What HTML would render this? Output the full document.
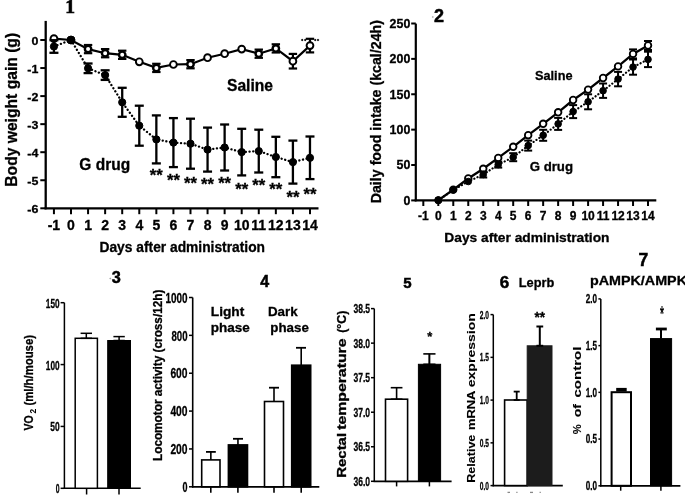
<!DOCTYPE html>
<html><head><meta charset="utf-8"><style>
html,body{margin:0;padding:0;background:#fff;}
svg{display:block;will-change:transform;}
</style></head><body>
<svg width="685" height="496" viewBox="0 0 685 496">
<rect width="685" height="496" fill="#fff"/>
<line x1="45.70" y1="20.90" x2="45.70" y2="209.30" stroke="#000" stroke-width="2.3"/>
<line x1="44.60" y1="208.30" x2="318.50" y2="208.30" stroke="#000" stroke-width="2.3"/>
<line x1="40.30" y1="40.00" x2="45.70" y2="40.00" stroke="#000" stroke-width="2"/>
<text transform="translate(38.40,44.60) scale(1.1,1)" font-family='"Liberation Sans", sans-serif' font-size="11.3" font-weight="bold" text-anchor="end" fill="#000" stroke="#000" stroke-width="0.3">0</text>
<line x1="40.30" y1="68.05" x2="45.70" y2="68.05" stroke="#000" stroke-width="2"/>
<text transform="translate(38.40,72.65) scale(1.1,1)" font-family='"Liberation Sans", sans-serif' font-size="11.3" font-weight="bold" text-anchor="end" fill="#000" stroke="#000" stroke-width="0.3">-1</text>
<line x1="40.30" y1="96.10" x2="45.70" y2="96.10" stroke="#000" stroke-width="2"/>
<text transform="translate(38.40,100.70) scale(1.1,1)" font-family='"Liberation Sans", sans-serif' font-size="11.3" font-weight="bold" text-anchor="end" fill="#000" stroke="#000" stroke-width="0.3">-2</text>
<line x1="40.30" y1="124.15" x2="45.70" y2="124.15" stroke="#000" stroke-width="2"/>
<text transform="translate(38.40,128.75) scale(1.1,1)" font-family='"Liberation Sans", sans-serif' font-size="11.3" font-weight="bold" text-anchor="end" fill="#000" stroke="#000" stroke-width="0.3">-3</text>
<line x1="40.30" y1="152.20" x2="45.70" y2="152.20" stroke="#000" stroke-width="2"/>
<text transform="translate(38.40,156.80) scale(1.1,1)" font-family='"Liberation Sans", sans-serif' font-size="11.3" font-weight="bold" text-anchor="end" fill="#000" stroke="#000" stroke-width="0.3">-4</text>
<line x1="40.30" y1="180.25" x2="45.70" y2="180.25" stroke="#000" stroke-width="2"/>
<text transform="translate(38.40,184.85) scale(1.1,1)" font-family='"Liberation Sans", sans-serif' font-size="11.3" font-weight="bold" text-anchor="end" fill="#000" stroke="#000" stroke-width="0.3">-5</text>
<line x1="40.30" y1="208.30" x2="45.70" y2="208.30" stroke="#000" stroke-width="2"/>
<text transform="translate(38.40,212.90) scale(1.1,1)" font-family='"Liberation Sans", sans-serif' font-size="11.3" font-weight="bold" text-anchor="end" fill="#000" stroke="#000" stroke-width="0.3">-6</text>
<line x1="53.93" y1="208.30" x2="53.93" y2="214.20" stroke="#000" stroke-width="2"/>
<text x="53.93" y="229.60" font-family='"Liberation Sans", sans-serif' font-size="14" font-weight="bold" text-anchor="middle" fill="#000" stroke="#000" stroke-width="0.3">-1</text>
<line x1="71.00" y1="208.30" x2="71.00" y2="214.20" stroke="#000" stroke-width="2"/>
<text x="71.00" y="229.60" font-family='"Liberation Sans", sans-serif' font-size="14" font-weight="bold" text-anchor="middle" fill="#000" stroke="#000" stroke-width="0.3">0</text>
<line x1="88.07" y1="208.30" x2="88.07" y2="214.20" stroke="#000" stroke-width="2"/>
<text x="88.07" y="229.60" font-family='"Liberation Sans", sans-serif' font-size="14" font-weight="bold" text-anchor="middle" fill="#000" stroke="#000" stroke-width="0.3">1</text>
<line x1="105.14" y1="208.30" x2="105.14" y2="214.20" stroke="#000" stroke-width="2"/>
<text x="105.14" y="229.60" font-family='"Liberation Sans", sans-serif' font-size="14" font-weight="bold" text-anchor="middle" fill="#000" stroke="#000" stroke-width="0.3">2</text>
<line x1="122.21" y1="208.30" x2="122.21" y2="214.20" stroke="#000" stroke-width="2"/>
<text x="122.21" y="229.60" font-family='"Liberation Sans", sans-serif' font-size="14" font-weight="bold" text-anchor="middle" fill="#000" stroke="#000" stroke-width="0.3">3</text>
<line x1="139.28" y1="208.30" x2="139.28" y2="214.20" stroke="#000" stroke-width="2"/>
<text x="139.28" y="229.60" font-family='"Liberation Sans", sans-serif' font-size="14" font-weight="bold" text-anchor="middle" fill="#000" stroke="#000" stroke-width="0.3">4</text>
<line x1="156.35" y1="208.30" x2="156.35" y2="214.20" stroke="#000" stroke-width="2"/>
<text x="156.35" y="229.60" font-family='"Liberation Sans", sans-serif' font-size="14" font-weight="bold" text-anchor="middle" fill="#000" stroke="#000" stroke-width="0.3">5</text>
<line x1="173.42" y1="208.30" x2="173.42" y2="214.20" stroke="#000" stroke-width="2"/>
<text x="173.42" y="229.60" font-family='"Liberation Sans", sans-serif' font-size="14" font-weight="bold" text-anchor="middle" fill="#000" stroke="#000" stroke-width="0.3">6</text>
<line x1="190.49" y1="208.30" x2="190.49" y2="214.20" stroke="#000" stroke-width="2"/>
<text x="190.49" y="229.60" font-family='"Liberation Sans", sans-serif' font-size="14" font-weight="bold" text-anchor="middle" fill="#000" stroke="#000" stroke-width="0.3">7</text>
<line x1="207.56" y1="208.30" x2="207.56" y2="214.20" stroke="#000" stroke-width="2"/>
<text x="207.56" y="229.60" font-family='"Liberation Sans", sans-serif' font-size="14" font-weight="bold" text-anchor="middle" fill="#000" stroke="#000" stroke-width="0.3">8</text>
<line x1="224.63" y1="208.30" x2="224.63" y2="214.20" stroke="#000" stroke-width="2"/>
<text x="224.63" y="229.60" font-family='"Liberation Sans", sans-serif' font-size="14" font-weight="bold" text-anchor="middle" fill="#000" stroke="#000" stroke-width="0.3">9</text>
<line x1="241.70" y1="208.30" x2="241.70" y2="214.20" stroke="#000" stroke-width="2"/>
<text x="241.70" y="229.60" font-family='"Liberation Sans", sans-serif' font-size="14" font-weight="bold" text-anchor="middle" fill="#000" stroke="#000" stroke-width="0.3">10</text>
<line x1="258.77" y1="208.30" x2="258.77" y2="214.20" stroke="#000" stroke-width="2"/>
<text x="258.77" y="229.60" font-family='"Liberation Sans", sans-serif' font-size="14" font-weight="bold" text-anchor="middle" fill="#000" stroke="#000" stroke-width="0.3">11</text>
<line x1="275.84" y1="208.30" x2="275.84" y2="214.20" stroke="#000" stroke-width="2"/>
<text x="275.84" y="229.60" font-family='"Liberation Sans", sans-serif' font-size="14" font-weight="bold" text-anchor="middle" fill="#000" stroke="#000" stroke-width="0.3">12</text>
<line x1="292.91" y1="208.30" x2="292.91" y2="214.20" stroke="#000" stroke-width="2"/>
<text x="292.91" y="229.60" font-family='"Liberation Sans", sans-serif' font-size="14" font-weight="bold" text-anchor="middle" fill="#000" stroke="#000" stroke-width="0.3">13</text>
<line x1="309.98" y1="208.30" x2="309.98" y2="214.20" stroke="#000" stroke-width="2"/>
<text x="309.98" y="229.60" font-family='"Liberation Sans", sans-serif' font-size="14" font-weight="bold" text-anchor="middle" fill="#000" stroke="#000" stroke-width="0.3">14</text>
<text x="99.50" y="252.30" font-family='"Liberation Sans", sans-serif' font-size="14" font-weight="bold" text-anchor="start" fill="#000" textLength="165.5" lengthAdjust="spacingAndGlyphs" stroke="#000" stroke-width="0.3">Days after administration</text>
<text transform="translate(16.50,186.70) rotate(-90)" font-family='"Liberation Sans", sans-serif' font-size="15.6" font-weight="bold" textLength="153.80" lengthAdjust="spacingAndGlyphs" stroke="#000" stroke-width="0.3">Body weight gain (g)</text>
<text x="70.00" y="12.60" font-family='"Liberation Serif", serif' font-size="19.5" font-weight="bold" text-anchor="middle" fill="#000" stroke="#000" stroke-width="0.7">1</text>
<line x1="88.07" y1="45.00" x2="88.07" y2="53.20" stroke="#000" stroke-width="2.2"/>
<line x1="83.87" y1="45.00" x2="92.27" y2="45.00" stroke="#000" stroke-width="2.2"/>
<line x1="83.87" y1="53.20" x2="92.27" y2="53.20" stroke="#000" stroke-width="2.2"/>
<line x1="105.14" y1="49.10" x2="105.14" y2="57.30" stroke="#000" stroke-width="2.2"/>
<line x1="100.94" y1="49.10" x2="109.34" y2="49.10" stroke="#000" stroke-width="2.2"/>
<line x1="100.94" y1="57.30" x2="109.34" y2="57.30" stroke="#000" stroke-width="2.2"/>
<line x1="122.21" y1="50.70" x2="122.21" y2="58.90" stroke="#000" stroke-width="2.2"/>
<line x1="118.01" y1="50.70" x2="126.41" y2="50.70" stroke="#000" stroke-width="2.2"/>
<line x1="118.01" y1="58.90" x2="126.41" y2="58.90" stroke="#000" stroke-width="2.2"/>
<line x1="156.35" y1="63.80" x2="156.35" y2="72.00" stroke="#000" stroke-width="2.2"/>
<line x1="152.15" y1="63.80" x2="160.55" y2="63.80" stroke="#000" stroke-width="2.2"/>
<line x1="152.15" y1="72.00" x2="160.55" y2="72.00" stroke="#000" stroke-width="2.2"/>
<line x1="190.49" y1="60.10" x2="190.49" y2="68.30" stroke="#000" stroke-width="2.2"/>
<line x1="186.29" y1="60.10" x2="194.69" y2="60.10" stroke="#000" stroke-width="2.2"/>
<line x1="186.29" y1="68.30" x2="194.69" y2="68.30" stroke="#000" stroke-width="2.2"/>
<line x1="258.77" y1="49.60" x2="258.77" y2="57.80" stroke="#000" stroke-width="2.2"/>
<line x1="254.57" y1="49.60" x2="262.97" y2="49.60" stroke="#000" stroke-width="2.2"/>
<line x1="254.57" y1="57.80" x2="262.97" y2="57.80" stroke="#000" stroke-width="2.2"/>
<line x1="275.84" y1="44.30" x2="275.84" y2="52.50" stroke="#000" stroke-width="2.2"/>
<line x1="271.64" y1="44.30" x2="280.04" y2="44.30" stroke="#000" stroke-width="2.2"/>
<line x1="271.64" y1="52.50" x2="280.04" y2="52.50" stroke="#000" stroke-width="2.2"/>
<line x1="292.91" y1="53.90" x2="292.91" y2="68.50" stroke="#000" stroke-width="2.2"/>
<line x1="288.71" y1="53.90" x2="297.11" y2="53.90" stroke="#000" stroke-width="2.2"/>
<line x1="288.71" y1="68.50" x2="297.11" y2="68.50" stroke="#000" stroke-width="2.2"/>
<line x1="309.98" y1="38.80" x2="309.98" y2="52.40" stroke="#000" stroke-width="2.2"/>
<line x1="305.78" y1="38.80" x2="314.18" y2="38.80" stroke="#000" stroke-width="2.2"/>
<line x1="305.78" y1="52.40" x2="314.18" y2="52.40" stroke="#000" stroke-width="2.2"/>
<polyline points="53.93,38.60 71.00,40.00 88.07,49.10 105.14,53.20 122.21,54.80 139.28,61.80 156.35,67.90 173.42,64.50 190.49,64.20 207.56,57.70 224.63,53.70 241.70,49.10 258.77,53.70 275.84,48.40 292.91,61.20 309.98,45.60" fill="none" stroke="#000" stroke-width="2.2"/>
<circle cx="53.93" cy="38.60" r="3.40" fill="#fff" stroke="#000" stroke-width="1.9"/>
<circle cx="88.07" cy="49.10" r="3.20" fill="#fff" stroke="#000" stroke-width="2.4"/>
<circle cx="105.14" cy="53.20" r="3.20" fill="#fff" stroke="#000" stroke-width="2.4"/>
<circle cx="122.21" cy="54.80" r="3.20" fill="#fff" stroke="#000" stroke-width="2.4"/>
<circle cx="139.28" cy="61.80" r="3.40" fill="#fff" stroke="#000" stroke-width="1.9"/>
<circle cx="156.35" cy="67.90" r="3.20" fill="#fff" stroke="#000" stroke-width="2.4"/>
<circle cx="173.42" cy="64.50" r="3.40" fill="#fff" stroke="#000" stroke-width="1.9"/>
<circle cx="190.49" cy="64.20" r="3.20" fill="#fff" stroke="#000" stroke-width="2.4"/>
<circle cx="207.56" cy="57.70" r="3.40" fill="#fff" stroke="#000" stroke-width="1.9"/>
<circle cx="224.63" cy="53.70" r="3.40" fill="#fff" stroke="#000" stroke-width="1.9"/>
<circle cx="241.70" cy="49.10" r="3.40" fill="#fff" stroke="#000" stroke-width="1.9"/>
<circle cx="258.77" cy="53.70" r="3.20" fill="#fff" stroke="#000" stroke-width="2.4"/>
<circle cx="275.84" cy="48.40" r="3.20" fill="#fff" stroke="#000" stroke-width="2.4"/>
<circle cx="292.91" cy="61.20" r="3.40" fill="#fff" stroke="#000" stroke-width="1.9"/>
<circle cx="309.98" cy="45.60" r="3.40" fill="#fff" stroke="#000" stroke-width="1.9"/>
<circle cx="71.00" cy="40.00" r="4.00" fill="#000" stroke="#000" stroke-width="1"/>
<polyline points="53.93,46.50 71.00,40.00 88.07,68.30 105.14,75.10 122.21,102.30 139.28,125.70 156.35,139.40 173.42,142.60 190.49,143.70 207.56,149.60 224.63,147.50 241.70,152.10 258.77,151.10 275.84,157.00 292.91,162.10 309.98,157.80" fill="none" stroke="#000" stroke-width="2.3" stroke-dasharray="0.1 3.6" stroke-linecap="round"/>
<line x1="53.93" y1="40.20" x2="53.93" y2="52.80" stroke="#000" stroke-width="2.3"/>
<line x1="49.43" y1="40.20" x2="58.43" y2="40.20" stroke="#000" stroke-width="2.3"/>
<line x1="49.43" y1="52.80" x2="58.43" y2="52.80" stroke="#000" stroke-width="2.3"/>
<line x1="88.07" y1="63.50" x2="88.07" y2="73.10" stroke="#000" stroke-width="2.3"/>
<line x1="83.57" y1="63.50" x2="92.57" y2="63.50" stroke="#000" stroke-width="2.3"/>
<line x1="83.57" y1="73.10" x2="92.57" y2="73.10" stroke="#000" stroke-width="2.3"/>
<line x1="105.14" y1="70.30" x2="105.14" y2="79.90" stroke="#000" stroke-width="2.3"/>
<line x1="100.64" y1="70.30" x2="109.64" y2="70.30" stroke="#000" stroke-width="2.3"/>
<line x1="100.64" y1="79.90" x2="109.64" y2="79.90" stroke="#000" stroke-width="2.3"/>
<line x1="122.21" y1="87.80" x2="122.21" y2="116.80" stroke="#000" stroke-width="2.3"/>
<line x1="117.71" y1="87.80" x2="126.71" y2="87.80" stroke="#000" stroke-width="2.3"/>
<line x1="117.71" y1="116.80" x2="126.71" y2="116.80" stroke="#000" stroke-width="2.3"/>
<line x1="139.28" y1="105.70" x2="139.28" y2="145.70" stroke="#000" stroke-width="2.3"/>
<line x1="134.78" y1="105.70" x2="143.78" y2="105.70" stroke="#000" stroke-width="2.3"/>
<line x1="134.78" y1="145.70" x2="143.78" y2="145.70" stroke="#000" stroke-width="2.3"/>
<line x1="156.35" y1="115.40" x2="156.35" y2="163.40" stroke="#000" stroke-width="2.3"/>
<line x1="151.85" y1="115.40" x2="160.85" y2="115.40" stroke="#000" stroke-width="2.3"/>
<line x1="151.85" y1="163.40" x2="160.85" y2="163.40" stroke="#000" stroke-width="2.3"/>
<line x1="173.42" y1="118.10" x2="173.42" y2="167.10" stroke="#000" stroke-width="2.3"/>
<line x1="168.92" y1="118.10" x2="177.92" y2="118.10" stroke="#000" stroke-width="2.3"/>
<line x1="168.92" y1="167.10" x2="177.92" y2="167.10" stroke="#000" stroke-width="2.3"/>
<line x1="190.49" y1="118.70" x2="190.49" y2="168.70" stroke="#000" stroke-width="2.3"/>
<line x1="185.99" y1="118.70" x2="194.99" y2="118.70" stroke="#000" stroke-width="2.3"/>
<line x1="185.99" y1="168.70" x2="194.99" y2="168.70" stroke="#000" stroke-width="2.3"/>
<line x1="207.56" y1="127.60" x2="207.56" y2="171.60" stroke="#000" stroke-width="2.3"/>
<line x1="203.06" y1="127.60" x2="212.06" y2="127.60" stroke="#000" stroke-width="2.3"/>
<line x1="203.06" y1="171.60" x2="212.06" y2="171.60" stroke="#000" stroke-width="2.3"/>
<line x1="224.63" y1="124.50" x2="224.63" y2="170.50" stroke="#000" stroke-width="2.3"/>
<line x1="220.13" y1="124.50" x2="229.13" y2="124.50" stroke="#000" stroke-width="2.3"/>
<line x1="220.13" y1="170.50" x2="229.13" y2="170.50" stroke="#000" stroke-width="2.3"/>
<line x1="241.70" y1="128.80" x2="241.70" y2="175.40" stroke="#000" stroke-width="2.3"/>
<line x1="237.20" y1="128.80" x2="246.20" y2="128.80" stroke="#000" stroke-width="2.3"/>
<line x1="237.20" y1="175.40" x2="246.20" y2="175.40" stroke="#000" stroke-width="2.3"/>
<line x1="258.77" y1="129.70" x2="258.77" y2="172.50" stroke="#000" stroke-width="2.3"/>
<line x1="254.27" y1="129.70" x2="263.27" y2="129.70" stroke="#000" stroke-width="2.3"/>
<line x1="254.27" y1="172.50" x2="263.27" y2="172.50" stroke="#000" stroke-width="2.3"/>
<line x1="275.84" y1="136.80" x2="275.84" y2="177.20" stroke="#000" stroke-width="2.3"/>
<line x1="271.34" y1="136.80" x2="280.34" y2="136.80" stroke="#000" stroke-width="2.3"/>
<line x1="271.34" y1="177.20" x2="280.34" y2="177.20" stroke="#000" stroke-width="2.3"/>
<line x1="292.91" y1="140.60" x2="292.91" y2="183.60" stroke="#000" stroke-width="2.3"/>
<line x1="288.41" y1="140.60" x2="297.41" y2="140.60" stroke="#000" stroke-width="2.3"/>
<line x1="288.41" y1="183.60" x2="297.41" y2="183.60" stroke="#000" stroke-width="2.3"/>
<line x1="309.98" y1="136.50" x2="309.98" y2="179.10" stroke="#000" stroke-width="2.3"/>
<line x1="305.48" y1="136.50" x2="314.48" y2="136.50" stroke="#000" stroke-width="2.3"/>
<line x1="305.48" y1="179.10" x2="314.48" y2="179.10" stroke="#000" stroke-width="2.3"/>
<circle cx="53.93" cy="46.50" r="3.60" fill="#000" stroke="#000" stroke-width="1"/>
<circle cx="71.00" cy="40.00" r="3.60" fill="#000" stroke="#000" stroke-width="1"/>
<circle cx="88.07" cy="68.30" r="3.60" fill="#000" stroke="#000" stroke-width="1"/>
<circle cx="105.14" cy="75.10" r="3.60" fill="#000" stroke="#000" stroke-width="1"/>
<circle cx="122.21" cy="102.30" r="3.60" fill="#000" stroke="#000" stroke-width="1"/>
<circle cx="139.28" cy="125.70" r="3.60" fill="#000" stroke="#000" stroke-width="1"/>
<circle cx="156.35" cy="139.40" r="3.60" fill="#000" stroke="#000" stroke-width="1"/>
<circle cx="173.42" cy="142.60" r="3.60" fill="#000" stroke="#000" stroke-width="1"/>
<circle cx="190.49" cy="143.70" r="3.60" fill="#000" stroke="#000" stroke-width="1"/>
<circle cx="207.56" cy="149.60" r="3.60" fill="#000" stroke="#000" stroke-width="1"/>
<circle cx="224.63" cy="147.50" r="3.60" fill="#000" stroke="#000" stroke-width="1"/>
<circle cx="241.70" cy="152.10" r="3.60" fill="#000" stroke="#000" stroke-width="1"/>
<circle cx="258.77" cy="151.10" r="3.60" fill="#000" stroke="#000" stroke-width="1"/>
<circle cx="275.84" cy="157.00" r="3.60" fill="#000" stroke="#000" stroke-width="1"/>
<circle cx="292.91" cy="162.10" r="3.60" fill="#000" stroke="#000" stroke-width="1"/>
<circle cx="309.98" cy="157.80" r="3.60" fill="#000" stroke="#000" stroke-width="1"/>
<circle cx="302.20" cy="40.00" r="0.90" fill="#000" stroke="#000" stroke-width="0.3"/>
<circle cx="305.20" cy="40.00" r="0.90" fill="#000" stroke="#000" stroke-width="0.3"/>
<circle cx="315.20" cy="40.00" r="0.90" fill="#000" stroke="#000" stroke-width="0.3"/>
<circle cx="318.00" cy="40.00" r="0.90" fill="#000" stroke="#000" stroke-width="0.3"/>
<text x="156.35" y="181.20" font-family='"Liberation Sans", sans-serif' font-size="17" font-weight="bold" text-anchor="middle" fill="#000" textLength="13" lengthAdjust="spacingAndGlyphs" stroke="#000" stroke-width="0.3">**</text>
<text x="173.42" y="186.10" font-family='"Liberation Sans", sans-serif' font-size="17" font-weight="bold" text-anchor="middle" fill="#000" textLength="13" lengthAdjust="spacingAndGlyphs" stroke="#000" stroke-width="0.3">**</text>
<text x="190.49" y="188.60" font-family='"Liberation Sans", sans-serif' font-size="17" font-weight="bold" text-anchor="middle" fill="#000" textLength="13" lengthAdjust="spacingAndGlyphs" stroke="#000" stroke-width="0.3">**</text>
<text x="207.56" y="190.30" font-family='"Liberation Sans", sans-serif' font-size="17" font-weight="bold" text-anchor="middle" fill="#000" textLength="13" lengthAdjust="spacingAndGlyphs" stroke="#000" stroke-width="0.3">**</text>
<text x="224.63" y="189.30" font-family='"Liberation Sans", sans-serif' font-size="17" font-weight="bold" text-anchor="middle" fill="#000" textLength="13" lengthAdjust="spacingAndGlyphs" stroke="#000" stroke-width="0.3">**</text>
<text x="241.70" y="194.50" font-family='"Liberation Sans", sans-serif' font-size="17" font-weight="bold" text-anchor="middle" fill="#000" textLength="13" lengthAdjust="spacingAndGlyphs" stroke="#000" stroke-width="0.3">**</text>
<text x="258.77" y="190.70" font-family='"Liberation Sans", sans-serif' font-size="17" font-weight="bold" text-anchor="middle" fill="#000" textLength="13" lengthAdjust="spacingAndGlyphs" stroke="#000" stroke-width="0.3">**</text>
<text x="275.84" y="195.00" font-family='"Liberation Sans", sans-serif' font-size="17" font-weight="bold" text-anchor="middle" fill="#000" textLength="13" lengthAdjust="spacingAndGlyphs" stroke="#000" stroke-width="0.3">**</text>
<text x="292.91" y="203.00" font-family='"Liberation Sans", sans-serif' font-size="17" font-weight="bold" text-anchor="middle" fill="#000" textLength="13" lengthAdjust="spacingAndGlyphs" stroke="#000" stroke-width="0.3">**</text>
<text x="309.98" y="199.60" font-family='"Liberation Sans", sans-serif' font-size="17" font-weight="bold" text-anchor="middle" fill="#000" textLength="13" lengthAdjust="spacingAndGlyphs" stroke="#000" stroke-width="0.3">**</text>
<text x="227.00" y="91.10" font-family='"Liberation Sans", sans-serif' font-size="15.6" font-weight="bold" text-anchor="start" fill="#000" textLength="46" lengthAdjust="spacingAndGlyphs" stroke="#000" stroke-width="0.3">Saline</text>
<text x="79.30" y="169.70" font-family='"Liberation Sans", sans-serif' font-size="15.6" font-weight="bold" text-anchor="start" fill="#000" textLength="50.8" lengthAdjust="spacingAndGlyphs" stroke="#000" stroke-width="0.3">G drug</text>
<line x1="415.80" y1="23.60" x2="415.80" y2="201.30" stroke="#000" stroke-width="2.2"/>
<line x1="414.70" y1="200.40" x2="656.30" y2="200.40" stroke="#000" stroke-width="2.2"/>
<line x1="411.20" y1="200.40" x2="415.80" y2="200.40" stroke="#000" stroke-width="2"/>
<text x="410.30" y="204.80" font-family='"Liberation Sans", sans-serif' font-size="12.4" font-weight="bold" text-anchor="end" fill="#000" stroke="#000" stroke-width="0.3">0</text>
<line x1="411.20" y1="165.02" x2="415.80" y2="165.02" stroke="#000" stroke-width="2"/>
<text x="410.30" y="169.42" font-family='"Liberation Sans", sans-serif' font-size="12.4" font-weight="bold" text-anchor="end" fill="#000" stroke="#000" stroke-width="0.3">50</text>
<line x1="411.20" y1="129.64" x2="415.80" y2="129.64" stroke="#000" stroke-width="2"/>
<text x="410.30" y="134.04" font-family='"Liberation Sans", sans-serif' font-size="12.4" font-weight="bold" text-anchor="end" fill="#000" stroke="#000" stroke-width="0.3">100</text>
<line x1="411.20" y1="94.26" x2="415.80" y2="94.26" stroke="#000" stroke-width="2"/>
<text x="410.30" y="98.66" font-family='"Liberation Sans", sans-serif' font-size="12.4" font-weight="bold" text-anchor="end" fill="#000" stroke="#000" stroke-width="0.3">150</text>
<line x1="411.20" y1="58.88" x2="415.80" y2="58.88" stroke="#000" stroke-width="2"/>
<text x="410.30" y="63.28" font-family='"Liberation Sans", sans-serif' font-size="12.4" font-weight="bold" text-anchor="end" fill="#000" stroke="#000" stroke-width="0.3">200</text>
<line x1="411.20" y1="23.50" x2="415.80" y2="23.50" stroke="#000" stroke-width="2"/>
<text x="410.30" y="27.90" font-family='"Liberation Sans", sans-serif' font-size="12.4" font-weight="bold" text-anchor="end" fill="#000" stroke="#000" stroke-width="0.3">250</text>
<line x1="423.32" y1="200.40" x2="423.32" y2="206.00" stroke="#000" stroke-width="2"/>
<text x="423.32" y="219.50" font-family='"Liberation Sans", sans-serif' font-size="12" font-weight="bold" text-anchor="middle" fill="#000" stroke="#000" stroke-width="0.3">-1</text>
<line x1="438.30" y1="200.40" x2="438.30" y2="206.00" stroke="#000" stroke-width="2"/>
<text x="438.30" y="219.50" font-family='"Liberation Sans", sans-serif' font-size="12" font-weight="bold" text-anchor="middle" fill="#000" stroke="#000" stroke-width="0.3">0</text>
<line x1="453.28" y1="200.40" x2="453.28" y2="206.00" stroke="#000" stroke-width="2"/>
<text x="453.28" y="219.50" font-family='"Liberation Sans", sans-serif' font-size="12" font-weight="bold" text-anchor="middle" fill="#000" stroke="#000" stroke-width="0.3">1</text>
<line x1="468.26" y1="200.40" x2="468.26" y2="206.00" stroke="#000" stroke-width="2"/>
<text x="468.26" y="219.50" font-family='"Liberation Sans", sans-serif' font-size="12" font-weight="bold" text-anchor="middle" fill="#000" stroke="#000" stroke-width="0.3">2</text>
<line x1="483.24" y1="200.40" x2="483.24" y2="206.00" stroke="#000" stroke-width="2"/>
<text x="483.24" y="219.50" font-family='"Liberation Sans", sans-serif' font-size="12" font-weight="bold" text-anchor="middle" fill="#000" stroke="#000" stroke-width="0.3">3</text>
<line x1="498.22" y1="200.40" x2="498.22" y2="206.00" stroke="#000" stroke-width="2"/>
<text x="498.22" y="219.50" font-family='"Liberation Sans", sans-serif' font-size="12" font-weight="bold" text-anchor="middle" fill="#000" stroke="#000" stroke-width="0.3">4</text>
<line x1="513.20" y1="200.40" x2="513.20" y2="206.00" stroke="#000" stroke-width="2"/>
<text x="513.20" y="219.50" font-family='"Liberation Sans", sans-serif' font-size="12" font-weight="bold" text-anchor="middle" fill="#000" stroke="#000" stroke-width="0.3">5</text>
<line x1="528.18" y1="200.40" x2="528.18" y2="206.00" stroke="#000" stroke-width="2"/>
<text x="528.18" y="219.50" font-family='"Liberation Sans", sans-serif' font-size="12" font-weight="bold" text-anchor="middle" fill="#000" stroke="#000" stroke-width="0.3">6</text>
<line x1="543.16" y1="200.40" x2="543.16" y2="206.00" stroke="#000" stroke-width="2"/>
<text x="543.16" y="219.50" font-family='"Liberation Sans", sans-serif' font-size="12" font-weight="bold" text-anchor="middle" fill="#000" stroke="#000" stroke-width="0.3">7</text>
<line x1="558.14" y1="200.40" x2="558.14" y2="206.00" stroke="#000" stroke-width="2"/>
<text x="558.14" y="219.50" font-family='"Liberation Sans", sans-serif' font-size="12" font-weight="bold" text-anchor="middle" fill="#000" stroke="#000" stroke-width="0.3">8</text>
<line x1="573.12" y1="200.40" x2="573.12" y2="206.00" stroke="#000" stroke-width="2"/>
<text x="573.12" y="219.50" font-family='"Liberation Sans", sans-serif' font-size="12" font-weight="bold" text-anchor="middle" fill="#000" stroke="#000" stroke-width="0.3">9</text>
<line x1="588.10" y1="200.40" x2="588.10" y2="206.00" stroke="#000" stroke-width="2"/>
<text x="588.10" y="219.50" font-family='"Liberation Sans", sans-serif' font-size="12" font-weight="bold" text-anchor="middle" fill="#000" stroke="#000" stroke-width="0.3">10</text>
<line x1="603.08" y1="200.40" x2="603.08" y2="206.00" stroke="#000" stroke-width="2"/>
<text x="603.08" y="219.50" font-family='"Liberation Sans", sans-serif' font-size="12" font-weight="bold" text-anchor="middle" fill="#000" stroke="#000" stroke-width="0.3">11</text>
<line x1="618.06" y1="200.40" x2="618.06" y2="206.00" stroke="#000" stroke-width="2"/>
<text x="618.06" y="219.50" font-family='"Liberation Sans", sans-serif' font-size="12" font-weight="bold" text-anchor="middle" fill="#000" stroke="#000" stroke-width="0.3">12</text>
<line x1="633.04" y1="200.40" x2="633.04" y2="206.00" stroke="#000" stroke-width="2"/>
<text x="633.04" y="219.50" font-family='"Liberation Sans", sans-serif' font-size="12" font-weight="bold" text-anchor="middle" fill="#000" stroke="#000" stroke-width="0.3">13</text>
<line x1="648.02" y1="200.40" x2="648.02" y2="206.00" stroke="#000" stroke-width="2"/>
<text x="648.02" y="219.50" font-family='"Liberation Sans", sans-serif' font-size="12" font-weight="bold" text-anchor="middle" fill="#000" stroke="#000" stroke-width="0.3">14</text>
<text x="444.30" y="242.40" font-family='"Liberation Sans", sans-serif' font-size="12.9" font-weight="bold" text-anchor="start" fill="#000" textLength="165.2" lengthAdjust="spacingAndGlyphs" stroke="#000" stroke-width="0.3">Days after administration</text>
<text transform="translate(381.20,203.30) rotate(-90)" font-family='"Liberation Sans", sans-serif' font-size="14.2" font-weight="bold" textLength="183.30" lengthAdjust="spacingAndGlyphs" stroke="#000" stroke-width="0.3">Daily food intake (kcal/24h)</text>
<text x="439.00" y="21.90" font-family='"Liberation Sans", sans-serif' font-size="18" font-weight="bold" text-anchor="middle" fill="#000" stroke="#000" stroke-width="0.5">2</text>
<line x1="633.04" y1="49.40" x2="633.04" y2="58.40" stroke="#000" stroke-width="2"/>
<line x1="629.04" y1="49.40" x2="637.04" y2="49.40" stroke="#000" stroke-width="2"/>
<line x1="629.04" y1="58.40" x2="637.04" y2="58.40" stroke="#000" stroke-width="2"/>
<line x1="648.02" y1="41.00" x2="648.02" y2="50.00" stroke="#000" stroke-width="2"/>
<line x1="644.02" y1="41.00" x2="652.02" y2="41.00" stroke="#000" stroke-width="2"/>
<line x1="644.02" y1="50.00" x2="652.02" y2="50.00" stroke="#000" stroke-width="2"/>
<polyline points="438.30,200.20 453.28,189.60 468.26,178.50 483.24,168.80 498.22,157.90 513.20,146.80 528.18,135.20 543.16,123.80 558.14,112.30 573.12,100.00 588.10,89.60 603.08,78.00 618.06,66.40 633.04,53.90 648.02,45.50" fill="none" stroke="#000" stroke-width="2.3"/>
<circle cx="453.28" cy="189.60" r="3.30" fill="#fff" stroke="#000" stroke-width="1.8"/>
<circle cx="468.26" cy="178.50" r="3.30" fill="#fff" stroke="#000" stroke-width="1.8"/>
<circle cx="483.24" cy="168.80" r="3.30" fill="#fff" stroke="#000" stroke-width="1.8"/>
<circle cx="498.22" cy="157.90" r="3.30" fill="#fff" stroke="#000" stroke-width="1.8"/>
<circle cx="513.20" cy="146.80" r="3.30" fill="#fff" stroke="#000" stroke-width="1.8"/>
<circle cx="528.18" cy="135.20" r="3.30" fill="#fff" stroke="#000" stroke-width="1.8"/>
<circle cx="543.16" cy="123.80" r="3.30" fill="#fff" stroke="#000" stroke-width="1.8"/>
<circle cx="558.14" cy="112.30" r="3.30" fill="#fff" stroke="#000" stroke-width="1.8"/>
<circle cx="573.12" cy="100.00" r="3.30" fill="#fff" stroke="#000" stroke-width="1.8"/>
<circle cx="588.10" cy="89.60" r="3.30" fill="#fff" stroke="#000" stroke-width="1.8"/>
<circle cx="603.08" cy="78.00" r="3.30" fill="#fff" stroke="#000" stroke-width="1.8"/>
<circle cx="618.06" cy="66.40" r="3.30" fill="#fff" stroke="#000" stroke-width="1.8"/>
<circle cx="633.04" cy="53.90" r="3.30" fill="#fff" stroke="#000" stroke-width="1.8"/>
<circle cx="648.02" cy="45.50" r="3.30" fill="#fff" stroke="#000" stroke-width="1.8"/>
<polyline points="438.30,200.20 453.28,190.00 468.26,181.50 483.24,174.50 498.22,164.60 513.20,157.20 528.18,145.60 543.16,135.30 558.14,123.90 573.12,111.60 588.10,101.80 603.08,90.70 618.06,79.10 633.04,67.10 648.02,59.40" fill="none" stroke="#000" stroke-width="2.2" stroke-dasharray="0.1 3.4" stroke-linecap="round"/>
<line x1="483.24" y1="171.50" x2="483.24" y2="177.50" stroke="#000" stroke-width="2"/>
<line x1="479.24" y1="171.50" x2="487.24" y2="171.50" stroke="#000" stroke-width="2"/>
<line x1="479.24" y1="177.50" x2="487.24" y2="177.50" stroke="#000" stroke-width="2"/>
<line x1="498.22" y1="161.60" x2="498.22" y2="167.60" stroke="#000" stroke-width="2"/>
<line x1="494.22" y1="161.60" x2="502.22" y2="161.60" stroke="#000" stroke-width="2"/>
<line x1="494.22" y1="167.60" x2="502.22" y2="167.60" stroke="#000" stroke-width="2"/>
<line x1="513.20" y1="153.20" x2="513.20" y2="161.20" stroke="#000" stroke-width="2"/>
<line x1="509.20" y1="153.20" x2="517.20" y2="153.20" stroke="#000" stroke-width="2"/>
<line x1="509.20" y1="161.20" x2="517.20" y2="161.20" stroke="#000" stroke-width="2"/>
<line x1="528.18" y1="140.60" x2="528.18" y2="150.60" stroke="#000" stroke-width="2"/>
<line x1="524.18" y1="140.60" x2="532.18" y2="140.60" stroke="#000" stroke-width="2"/>
<line x1="524.18" y1="150.60" x2="532.18" y2="150.60" stroke="#000" stroke-width="2"/>
<line x1="543.16" y1="129.80" x2="543.16" y2="140.80" stroke="#000" stroke-width="2"/>
<line x1="539.16" y1="129.80" x2="547.16" y2="129.80" stroke="#000" stroke-width="2"/>
<line x1="539.16" y1="140.80" x2="547.16" y2="140.80" stroke="#000" stroke-width="2"/>
<line x1="558.14" y1="117.90" x2="558.14" y2="129.90" stroke="#000" stroke-width="2"/>
<line x1="554.14" y1="117.90" x2="562.14" y2="117.90" stroke="#000" stroke-width="2"/>
<line x1="554.14" y1="129.90" x2="562.14" y2="129.90" stroke="#000" stroke-width="2"/>
<line x1="573.12" y1="105.10" x2="573.12" y2="118.10" stroke="#000" stroke-width="2"/>
<line x1="569.12" y1="105.10" x2="577.12" y2="105.10" stroke="#000" stroke-width="2"/>
<line x1="569.12" y1="118.10" x2="577.12" y2="118.10" stroke="#000" stroke-width="2"/>
<line x1="588.10" y1="94.30" x2="588.10" y2="109.30" stroke="#000" stroke-width="2"/>
<line x1="584.10" y1="94.30" x2="592.10" y2="94.30" stroke="#000" stroke-width="2"/>
<line x1="584.10" y1="109.30" x2="592.10" y2="109.30" stroke="#000" stroke-width="2"/>
<line x1="603.08" y1="83.50" x2="603.08" y2="97.90" stroke="#000" stroke-width="2"/>
<line x1="599.08" y1="83.50" x2="607.08" y2="83.50" stroke="#000" stroke-width="2"/>
<line x1="599.08" y1="97.90" x2="607.08" y2="97.90" stroke="#000" stroke-width="2"/>
<line x1="618.06" y1="71.90" x2="618.06" y2="86.30" stroke="#000" stroke-width="2"/>
<line x1="614.06" y1="71.90" x2="622.06" y2="71.90" stroke="#000" stroke-width="2"/>
<line x1="614.06" y1="86.30" x2="622.06" y2="86.30" stroke="#000" stroke-width="2"/>
<line x1="633.04" y1="59.50" x2="633.04" y2="74.70" stroke="#000" stroke-width="2"/>
<line x1="629.04" y1="59.50" x2="637.04" y2="59.50" stroke="#000" stroke-width="2"/>
<line x1="629.04" y1="74.70" x2="637.04" y2="74.70" stroke="#000" stroke-width="2"/>
<line x1="648.02" y1="51.70" x2="648.02" y2="67.10" stroke="#000" stroke-width="2"/>
<line x1="644.02" y1="51.70" x2="652.02" y2="51.70" stroke="#000" stroke-width="2"/>
<line x1="644.02" y1="67.10" x2="652.02" y2="67.10" stroke="#000" stroke-width="2"/>
<circle cx="438.30" cy="200.20" r="3.30" fill="#000" stroke="#000" stroke-width="1"/>
<circle cx="453.28" cy="190.00" r="3.30" fill="#000" stroke="#000" stroke-width="1"/>
<circle cx="468.26" cy="181.50" r="3.30" fill="#000" stroke="#000" stroke-width="1"/>
<circle cx="483.24" cy="174.50" r="3.30" fill="#000" stroke="#000" stroke-width="1"/>
<circle cx="498.22" cy="164.60" r="3.30" fill="#000" stroke="#000" stroke-width="1"/>
<circle cx="513.20" cy="157.20" r="3.30" fill="#000" stroke="#000" stroke-width="1"/>
<circle cx="528.18" cy="145.60" r="3.30" fill="#000" stroke="#000" stroke-width="1"/>
<circle cx="543.16" cy="135.30" r="3.30" fill="#000" stroke="#000" stroke-width="1"/>
<circle cx="558.14" cy="123.90" r="3.30" fill="#000" stroke="#000" stroke-width="1"/>
<circle cx="573.12" cy="111.60" r="3.30" fill="#000" stroke="#000" stroke-width="1"/>
<circle cx="588.10" cy="101.80" r="3.30" fill="#000" stroke="#000" stroke-width="1"/>
<circle cx="603.08" cy="90.70" r="3.30" fill="#000" stroke="#000" stroke-width="1"/>
<circle cx="618.06" cy="79.10" r="3.30" fill="#000" stroke="#000" stroke-width="1"/>
<circle cx="633.04" cy="67.10" r="3.30" fill="#000" stroke="#000" stroke-width="1"/>
<circle cx="648.02" cy="59.40" r="3.30" fill="#000" stroke="#000" stroke-width="1"/>
<circle cx="438.30" cy="200.20" r="3.60" fill="#000" stroke="#000" stroke-width="1"/>
<text x="535.00" y="79.80" font-family='"Liberation Sans", sans-serif' font-size="12.9" font-weight="bold" text-anchor="start" fill="#000" textLength="37.5" lengthAdjust="spacingAndGlyphs" stroke="#000" stroke-width="0.3">Saline</text>
<text x="529.70" y="171.00" font-family='"Liberation Sans", sans-serif' font-size="13.2" font-weight="bold" text-anchor="start" fill="#000" textLength="43.3" lengthAdjust="spacingAndGlyphs" stroke="#000" stroke-width="0.3">G drug</text>
<line x1="64.40" y1="302.70" x2="64.40" y2="489.00" stroke="#000" stroke-width="1.5"/>
<line x1="63.70" y1="488.30" x2="140.70" y2="488.30" stroke="#000" stroke-width="1.5"/>
<line x1="60.60" y1="488.30" x2="64.40" y2="488.30" stroke="#000" stroke-width="1.5"/>
<text x="59.60" y="493.25" font-family='"Liberation Sans", sans-serif' font-size="13.0" font-weight="bold" text-anchor="end" fill="#000" textLength="3.8" lengthAdjust="spacingAndGlyphs" stroke="#000" stroke-width="0.3">0</text>
<line x1="60.60" y1="426.43" x2="64.40" y2="426.43" stroke="#000" stroke-width="1.5"/>
<text x="59.60" y="431.39" font-family='"Liberation Sans", sans-serif' font-size="13.0" font-weight="bold" text-anchor="end" fill="#000" textLength="9.4" lengthAdjust="spacingAndGlyphs" stroke="#000" stroke-width="0.3">50</text>
<line x1="60.60" y1="364.57" x2="64.40" y2="364.57" stroke="#000" stroke-width="1.5"/>
<text x="59.60" y="369.52" font-family='"Liberation Sans", sans-serif' font-size="13.0" font-weight="bold" text-anchor="end" fill="#000" textLength="13.8" lengthAdjust="spacingAndGlyphs" stroke="#000" stroke-width="0.3">100</text>
<line x1="60.60" y1="302.70" x2="64.40" y2="302.70" stroke="#000" stroke-width="1.5"/>
<text x="59.60" y="307.65" font-family='"Liberation Sans", sans-serif' font-size="13.0" font-weight="bold" text-anchor="end" fill="#000" textLength="13.8" lengthAdjust="spacingAndGlyphs" stroke="#000" stroke-width="0.3">150</text>
<line x1="86.60" y1="488.30" x2="86.60" y2="494.50" stroke="#000" stroke-width="1.5"/>
<line x1="119.00" y1="488.30" x2="119.00" y2="494.50" stroke="#000" stroke-width="1.5"/>
<rect x="75.20" y="338.30" width="22.20" height="150.00" fill="#fff" stroke="#000" stroke-width="1.5"/>
<line x1="86.30" y1="333.30" x2="86.30" y2="338.30" stroke="#000" stroke-width="1.5"/>
<line x1="80.60" y1="333.30" x2="92.00" y2="333.30" stroke="#000" stroke-width="1.5"/>
<line x1="80.60" y1="338.30" x2="92.00" y2="338.30" stroke="#000" stroke-width="1.5"/>
<rect x="107.70" y="340.50" width="22.80" height="147.80" fill="#000" stroke="#000" stroke-width="1"/>
<line x1="119.10" y1="336.60" x2="119.10" y2="340.50" stroke="#000" stroke-width="1.5"/>
<line x1="113.40" y1="336.60" x2="124.80" y2="336.60" stroke="#000" stroke-width="1.5"/>
<line x1="113.40" y1="340.50" x2="124.80" y2="340.50" stroke="#000" stroke-width="1.5"/>
<text transform="translate(33.00,430.40) rotate(-90)" font-family='"Liberation Sans", sans-serif' font-size="12.3" font-weight="bold" textLength="15.20" lengthAdjust="spacingAndGlyphs" stroke="#000" stroke-width="0.3">VO</text>
<text transform="translate(36.3,413.6) rotate(-90)" font-family='"Liberation Sans", sans-serif' font-size="8.5" font-weight="bold">2</text>
<text transform="translate(33.00,405.60) rotate(-90)" font-family='"Liberation Sans", sans-serif' font-size="12.5" font-weight="bold" textLength="70.60" lengthAdjust="spacingAndGlyphs" stroke="#000" stroke-width="0.3">(ml/h/mouse)</text>
<circle cx="110.30" cy="278.50" r="0.70" fill="#999" stroke="#999" stroke-width="0.2"/>
<circle cx="432.80" cy="17.00" r="0.70" fill="#999" stroke="#999" stroke-width="0.2"/>
<text x="116.20" y="283.30" font-family='"Liberation Sans", sans-serif' font-size="16.3" font-weight="bold" text-anchor="middle" fill="#000" stroke="#000" stroke-width="0.5">3</text>
<line x1="192.70" y1="297.50" x2="192.70" y2="487.50" stroke="#000" stroke-width="1.6"/>
<line x1="192.00" y1="486.80" x2="319.30" y2="486.80" stroke="#000" stroke-width="1.8"/>
<line x1="189.00" y1="486.80" x2="192.70" y2="486.80" stroke="#000" stroke-width="1.5"/>
<text x="187.60" y="492.03" font-family='"Liberation Sans", sans-serif' font-size="14.6" font-weight="bold" text-anchor="end" fill="#000" textLength="5.0" lengthAdjust="spacingAndGlyphs" stroke="#000" stroke-width="0.3">0</text>
<line x1="189.00" y1="448.94" x2="192.70" y2="448.94" stroke="#000" stroke-width="1.5"/>
<text x="187.60" y="454.17" font-family='"Liberation Sans", sans-serif' font-size="14.6" font-weight="bold" text-anchor="end" fill="#000" textLength="17.2" lengthAdjust="spacingAndGlyphs" stroke="#000" stroke-width="0.3">200</text>
<line x1="189.00" y1="411.08" x2="192.70" y2="411.08" stroke="#000" stroke-width="1.5"/>
<text x="187.60" y="416.31" font-family='"Liberation Sans", sans-serif' font-size="14.6" font-weight="bold" text-anchor="end" fill="#000" textLength="17.2" lengthAdjust="spacingAndGlyphs" stroke="#000" stroke-width="0.3">400</text>
<line x1="189.00" y1="373.22" x2="192.70" y2="373.22" stroke="#000" stroke-width="1.5"/>
<text x="187.60" y="378.45" font-family='"Liberation Sans", sans-serif' font-size="14.6" font-weight="bold" text-anchor="end" fill="#000" textLength="17.2" lengthAdjust="spacingAndGlyphs" stroke="#000" stroke-width="0.3">600</text>
<line x1="189.00" y1="335.36" x2="192.70" y2="335.36" stroke="#000" stroke-width="1.5"/>
<text x="187.60" y="340.59" font-family='"Liberation Sans", sans-serif' font-size="14.6" font-weight="bold" text-anchor="end" fill="#000" textLength="16.1" lengthAdjust="spacingAndGlyphs" stroke="#000" stroke-width="0.3">800</text>
<line x1="189.00" y1="297.50" x2="192.70" y2="297.50" stroke="#000" stroke-width="1.5"/>
<text x="187.60" y="302.73" font-family='"Liberation Sans", sans-serif' font-size="14.6" font-weight="bold" text-anchor="end" fill="#000" textLength="22.1" lengthAdjust="spacingAndGlyphs" stroke="#000" stroke-width="0.3">1000</text>
<line x1="210.80" y1="486.80" x2="210.80" y2="492.80" stroke="#000" stroke-width="1.6"/>
<line x1="237.90" y1="486.80" x2="237.90" y2="492.80" stroke="#000" stroke-width="1.6"/>
<line x1="274.00" y1="486.80" x2="274.00" y2="492.80" stroke="#000" stroke-width="1.6"/>
<line x1="301.20" y1="486.80" x2="301.20" y2="492.80" stroke="#000" stroke-width="1.6"/>
<rect x="201.70" y="459.90" width="18.30" height="26.90" fill="#fff" stroke="#000" stroke-width="1.6"/>
<line x1="210.85" y1="451.90" x2="210.85" y2="459.90" stroke="#000" stroke-width="1.6"/>
<line x1="206.00" y1="451.90" x2="215.80" y2="451.90" stroke="#000" stroke-width="1.8"/>
<rect x="228.40" y="444.90" width="19.10" height="41.90" fill="#000" stroke="#000" stroke-width="1.6"/>
<line x1="237.95" y1="438.80" x2="237.95" y2="444.90" stroke="#000" stroke-width="1.6"/>
<line x1="233.00" y1="438.80" x2="243.00" y2="438.80" stroke="#000" stroke-width="1.8"/>
<rect x="264.50" y="401.50" width="19.00" height="85.30" fill="#fff" stroke="#000" stroke-width="1.6"/>
<line x1="274.00" y1="387.70" x2="274.00" y2="401.50" stroke="#000" stroke-width="1.6"/>
<line x1="269.00" y1="387.70" x2="279.00" y2="387.70" stroke="#000" stroke-width="1.8"/>
<rect x="291.70" y="365.20" width="19.00" height="121.60" fill="#000" stroke="#000" stroke-width="1.6"/>
<line x1="301.20" y1="347.80" x2="301.20" y2="365.20" stroke="#000" stroke-width="1.6"/>
<line x1="296.00" y1="347.80" x2="306.00" y2="347.80" stroke="#000" stroke-width="1.8"/>
<text transform="translate(161.80,461.00) rotate(-90)" font-family='"Liberation Sans", sans-serif' font-size="12.2" font-weight="bold" textLength="171.40" lengthAdjust="spacingAndGlyphs" stroke="#000" stroke-width="0.3">Locomotor activity (cross/12h)</text>
<text x="264.80" y="286.90" font-family='"Liberation Sans", sans-serif' font-size="16" font-weight="bold" text-anchor="middle" fill="#000" stroke="#000" stroke-width="0.5">4</text>
<text x="210.80" y="315.80" font-family='"Liberation Sans", sans-serif' font-size="13" font-weight="bold" text-anchor="start" fill="#000" textLength="33.5" lengthAdjust="spacingAndGlyphs" stroke="#000" stroke-width="0.3">Light</text>
<text x="210.80" y="331.50" font-family='"Liberation Sans", sans-serif' font-size="13" font-weight="bold" text-anchor="start" fill="#000" textLength="39" lengthAdjust="spacingAndGlyphs" stroke="#000" stroke-width="0.3">phase</text>
<text x="267.90" y="315.80" font-family='"Liberation Sans", sans-serif' font-size="13" font-weight="bold" text-anchor="start" fill="#000" textLength="29.7" lengthAdjust="spacingAndGlyphs" stroke="#000" stroke-width="0.3">Dark</text>
<text x="270.30" y="331.50" font-family='"Liberation Sans", sans-serif' font-size="13" font-weight="bold" text-anchor="start" fill="#000" textLength="38.5" lengthAdjust="spacingAndGlyphs" stroke="#000" stroke-width="0.3">phase</text>
<line x1="374.30" y1="308.60" x2="374.30" y2="482.00" stroke="#000" stroke-width="1.5"/>
<line x1="373.60" y1="481.30" x2="451.60" y2="481.30" stroke="#000" stroke-width="1.8"/>
<line x1="371.00" y1="481.30" x2="374.30" y2="481.30" stroke="#000" stroke-width="1.5"/>
<text x="370.00" y="485.95" font-family='"Liberation Sans", sans-serif' font-size="13" font-weight="bold" text-anchor="end" fill="#000" textLength="16.6" lengthAdjust="spacingAndGlyphs" stroke="#000" stroke-width="0.3">36.0</text>
<line x1="371.00" y1="446.76" x2="374.30" y2="446.76" stroke="#000" stroke-width="1.5"/>
<text x="370.00" y="451.41" font-family='"Liberation Sans", sans-serif' font-size="13" font-weight="bold" text-anchor="end" fill="#000" textLength="16.6" lengthAdjust="spacingAndGlyphs" stroke="#000" stroke-width="0.3">36.5</text>
<line x1="371.00" y1="412.22" x2="374.30" y2="412.22" stroke="#000" stroke-width="1.5"/>
<text x="370.00" y="416.87" font-family='"Liberation Sans", sans-serif' font-size="13" font-weight="bold" text-anchor="end" fill="#000" textLength="16.6" lengthAdjust="spacingAndGlyphs" stroke="#000" stroke-width="0.3">37.0</text>
<line x1="371.00" y1="377.68" x2="374.30" y2="377.68" stroke="#000" stroke-width="1.5"/>
<text x="370.00" y="382.33" font-family='"Liberation Sans", sans-serif' font-size="13" font-weight="bold" text-anchor="end" fill="#000" textLength="16.6" lengthAdjust="spacingAndGlyphs" stroke="#000" stroke-width="0.3">37.5</text>
<line x1="371.00" y1="343.14" x2="374.30" y2="343.14" stroke="#000" stroke-width="1.5"/>
<text x="370.00" y="347.79" font-family='"Liberation Sans", sans-serif' font-size="13" font-weight="bold" text-anchor="end" fill="#000" textLength="16.6" lengthAdjust="spacingAndGlyphs" stroke="#000" stroke-width="0.3">38.0</text>
<line x1="371.00" y1="308.60" x2="374.30" y2="308.60" stroke="#000" stroke-width="1.5"/>
<text x="370.00" y="313.25" font-family='"Liberation Sans", sans-serif' font-size="13" font-weight="bold" text-anchor="end" fill="#000" textLength="16.6" lengthAdjust="spacingAndGlyphs" stroke="#000" stroke-width="0.3">38.5</text>
<line x1="396.60" y1="481.30" x2="396.60" y2="486.40" stroke="#000" stroke-width="1.5"/>
<line x1="429.40" y1="481.30" x2="429.40" y2="486.40" stroke="#000" stroke-width="1.5"/>
<rect x="385.50" y="399.20" width="22.10" height="82.10" fill="#fff" stroke="#000" stroke-width="1.6"/>
<line x1="396.60" y1="387.70" x2="396.60" y2="399.20" stroke="#000" stroke-width="1.6"/>
<line x1="390.75" y1="387.70" x2="402.45" y2="387.70" stroke="#000" stroke-width="1.6"/>
<line x1="390.75" y1="399.20" x2="402.45" y2="399.20" stroke="#000" stroke-width="1.6"/>
<rect x="418.40" y="364.30" width="22.20" height="117.00" fill="#000" stroke="#000" stroke-width="1"/>
<line x1="429.40" y1="353.90" x2="429.40" y2="364.30" stroke="#000" stroke-width="1.6"/>
<line x1="423.30" y1="353.90" x2="435.50" y2="353.90" stroke="#000" stroke-width="1.6"/>
<line x1="423.30" y1="364.30" x2="435.50" y2="364.30" stroke="#000" stroke-width="1.6"/>
<line x1="429.40" y1="353.90" x2="429.40" y2="364.30" stroke="#000" stroke-width="1.6"/>
<text x="429.80" y="341.00" font-family='"Liberation Sans", sans-serif' font-size="13" font-weight="bold" text-anchor="middle" fill="#000" stroke="#000" stroke-width="0.3">*</text>
<text transform="translate(346.40,477.80) rotate(-90)" font-family='"Liberation Sans", sans-serif' font-size="12.2" font-weight="bold" textLength="44.90" lengthAdjust="spacingAndGlyphs" stroke="#000" stroke-width="0.3">Rectal</text>
<text transform="translate(346.40,429.80) rotate(-90)" font-family='"Liberation Sans", sans-serif' font-size="12.2" font-weight="bold" textLength="91.30" lengthAdjust="spacingAndGlyphs" stroke="#000" stroke-width="0.3">temperature</text>
<text transform="translate(346.40,332.80) rotate(-90)" font-family='"Liberation Sans", sans-serif' font-size="12.2" font-weight="bold" textLength="22.10" lengthAdjust="spacingAndGlyphs" stroke="#000" stroke-width="0.3">(°C)</text>
<text x="407.30" y="287.70" font-family='"Liberation Sans", sans-serif' font-size="15" font-weight="bold" text-anchor="middle" fill="#000" stroke="#000" stroke-width="0.5">5</text>
<line x1="493.30" y1="314.60" x2="493.30" y2="486.30" stroke="#000" stroke-width="1.5"/>
<line x1="492.60" y1="485.60" x2="562.80" y2="485.60" stroke="#000" stroke-width="1.8"/>
<line x1="490.50" y1="485.60" x2="493.30" y2="485.60" stroke="#000" stroke-width="1.5"/>
<text x="489.00" y="489.72" font-family='"Liberation Sans", sans-serif' font-size="11.5" font-weight="bold" text-anchor="end" fill="#000" textLength="9.2" lengthAdjust="spacingAndGlyphs" stroke="#000" stroke-width="0.3">0.0</text>
<line x1="490.50" y1="442.85" x2="493.30" y2="442.85" stroke="#000" stroke-width="1.5"/>
<text x="489.00" y="446.97" font-family='"Liberation Sans", sans-serif' font-size="11.5" font-weight="bold" text-anchor="end" fill="#000" textLength="9.2" lengthAdjust="spacingAndGlyphs" stroke="#000" stroke-width="0.3">0.5</text>
<line x1="490.50" y1="400.10" x2="493.30" y2="400.10" stroke="#000" stroke-width="1.5"/>
<text x="489.00" y="404.22" font-family='"Liberation Sans", sans-serif' font-size="11.5" font-weight="bold" text-anchor="end" fill="#000" textLength="9.2" lengthAdjust="spacingAndGlyphs" stroke="#000" stroke-width="0.3">1.0</text>
<line x1="490.50" y1="357.35" x2="493.30" y2="357.35" stroke="#000" stroke-width="1.5"/>
<text x="489.00" y="361.47" font-family='"Liberation Sans", sans-serif' font-size="11.5" font-weight="bold" text-anchor="end" fill="#000" textLength="9.2" lengthAdjust="spacingAndGlyphs" stroke="#000" stroke-width="0.3">1.5</text>
<line x1="490.50" y1="314.60" x2="493.30" y2="314.60" stroke="#000" stroke-width="1.5"/>
<text x="489.00" y="318.72" font-family='"Liberation Sans", sans-serif' font-size="11.5" font-weight="bold" text-anchor="end" fill="#000" textLength="9.2" lengthAdjust="spacingAndGlyphs" stroke="#000" stroke-width="0.3">2.0</text>
<rect x="504.60" y="400.00" width="22.60" height="85.60" fill="#fff" stroke="#000" stroke-width="1.6"/>
<line x1="516.70" y1="391.60" x2="516.70" y2="400.00" stroke="#000" stroke-width="1.8"/>
<line x1="513.70" y1="391.60" x2="519.70" y2="391.60" stroke="#000" stroke-width="1.8"/>
<line x1="513.70" y1="400.00" x2="519.70" y2="400.00" stroke="#000" stroke-width="1.8"/>
<rect x="527.20" y="345.80" width="24.80" height="139.80" fill="#1c1c1c" stroke="#1c1c1c" stroke-width="1"/>
<line x1="539.80" y1="326.50" x2="539.80" y2="345.80" stroke="#000" stroke-width="2.0"/>
<line x1="536.40" y1="326.50" x2="543.20" y2="326.50" stroke="#000" stroke-width="2.0"/>
<line x1="536.40" y1="345.80" x2="543.20" y2="345.80" stroke="#000" stroke-width="2.0"/>
<text x="539.80" y="321.50" font-family='"Liberation Sans", sans-serif' font-size="14" font-weight="bold" text-anchor="middle" fill="#000" textLength="10.5" lengthAdjust="spacingAndGlyphs" stroke="#000" stroke-width="0.3">**</text>
<text transform="translate(475.30,482.70) rotate(-90)" font-family='"Liberation Sans", sans-serif' font-size="10" font-weight="bold" textLength="48.00" lengthAdjust="spacingAndGlyphs" stroke="#000" stroke-width="0.1">Relative</text>
<text transform="translate(475.30,430.00) rotate(-90)" font-family='"Liberation Sans", sans-serif' font-size="10" font-weight="bold" textLength="39.30" lengthAdjust="spacingAndGlyphs" stroke="#000" stroke-width="0.1">mRNA</text>
<text transform="translate(475.30,387.30) rotate(-90)" font-family='"Liberation Sans", sans-serif' font-size="10" font-weight="bold" textLength="74.20" lengthAdjust="spacingAndGlyphs" stroke="#000" stroke-width="0.1">expression</text>
<line x1="507.50" y1="492.40" x2="510.00" y2="492.40" stroke="#888" stroke-width="1.3"/>
<line x1="516.30" y1="492.40" x2="517.50" y2="492.40" stroke="#888" stroke-width="1.3"/>
<line x1="530.00" y1="492.40" x2="533.00" y2="492.40" stroke="#888" stroke-width="1.3"/>
<line x1="539.60" y1="492.40" x2="540.80" y2="492.40" stroke="#888" stroke-width="1.3"/>
<text x="504.40" y="287.50" font-family='"Liberation Sans", sans-serif' font-size="17" font-weight="bold" text-anchor="middle" fill="#000" stroke="#000" stroke-width="0.5">6</text>
<text x="518.80" y="286.80" font-family='"Liberation Sans", sans-serif' font-size="13" font-weight="bold" text-anchor="start" fill="#000" textLength="35.5" lengthAdjust="spacingAndGlyphs" stroke="#000" stroke-width="0.3">Leprb</text>
<line x1="600.80" y1="298.90" x2="600.80" y2="486.50" stroke="#000" stroke-width="1.5"/>
<line x1="600.10" y1="485.80" x2="680.40" y2="485.80" stroke="#000" stroke-width="1.8"/>
<line x1="598.40" y1="485.80" x2="600.80" y2="485.80" stroke="#000" stroke-width="1.5"/>
<text x="597.00" y="490.10" font-family='"Liberation Sans", sans-serif' font-size="12" font-weight="bold" text-anchor="end" fill="#000" textLength="11.3" lengthAdjust="spacingAndGlyphs" stroke="#000" stroke-width="0.3">0.0</text>
<line x1="598.40" y1="439.07" x2="600.80" y2="439.07" stroke="#000" stroke-width="1.5"/>
<text x="597.00" y="443.37" font-family='"Liberation Sans", sans-serif' font-size="12" font-weight="bold" text-anchor="end" fill="#000" textLength="11.3" lengthAdjust="spacingAndGlyphs" stroke="#000" stroke-width="0.3">0.5</text>
<line x1="598.40" y1="392.35" x2="600.80" y2="392.35" stroke="#000" stroke-width="1.5"/>
<text x="597.00" y="396.65" font-family='"Liberation Sans", sans-serif' font-size="12" font-weight="bold" text-anchor="end" fill="#000" textLength="11.3" lengthAdjust="spacingAndGlyphs" stroke="#000" stroke-width="0.3">1.0</text>
<line x1="598.40" y1="345.62" x2="600.80" y2="345.62" stroke="#000" stroke-width="1.5"/>
<text x="597.00" y="349.92" font-family='"Liberation Sans", sans-serif' font-size="12" font-weight="bold" text-anchor="end" fill="#000" textLength="11.3" lengthAdjust="spacingAndGlyphs" stroke="#000" stroke-width="0.3">1.5</text>
<line x1="598.40" y1="298.90" x2="600.80" y2="298.90" stroke="#000" stroke-width="1.5"/>
<text x="597.00" y="303.20" font-family='"Liberation Sans", sans-serif' font-size="12" font-weight="bold" text-anchor="end" fill="#000" textLength="11.3" lengthAdjust="spacingAndGlyphs" stroke="#000" stroke-width="0.3">2.0</text>
<line x1="620.70" y1="485.80" x2="620.70" y2="490.70" stroke="#000" stroke-width="1.5"/>
<line x1="660.90" y1="485.80" x2="660.90" y2="490.70" stroke="#000" stroke-width="1.5"/>
<rect x="611.60" y="392.20" width="19.40" height="93.60" fill="#fff" stroke="#000" stroke-width="2.0"/>
<rect x="616.2" y="387.9" width="10.5" height="3.6" fill="#000"/>
<rect x="650.50" y="338.60" width="21.10" height="147.20" fill="#000" stroke="#000" stroke-width="1"/>
<line x1="661.00" y1="329.00" x2="661.00" y2="338.60" stroke="#000" stroke-width="2.0"/>
<line x1="655.90" y1="329.00" x2="666.80" y2="329.00" stroke="#000" stroke-width="2.8"/>
<text transform="translate(661.9,320.6) scale(0.85,1.9)" font-family='"Liberation Sans", sans-serif' font-size="12" font-weight="bold" text-anchor="middle">*</text>
<text transform="translate(580.50,434.20) rotate(-90)" font-family='"Liberation Sans", sans-serif' font-size="10" font-weight="bold" textLength="9.90" lengthAdjust="spacingAndGlyphs" stroke="#000" stroke-width="0.1">%</text>
<text transform="translate(580.50,417.30) rotate(-90)" font-family='"Liberation Sans", sans-serif' font-size="10" font-weight="bold" textLength="13.40" lengthAdjust="spacingAndGlyphs" stroke="#000" stroke-width="0.1">of</text>
<text transform="translate(580.50,397.50) rotate(-90)" font-family='"Liberation Sans", sans-serif' font-size="10" font-weight="bold" textLength="50.80" lengthAdjust="spacingAndGlyphs" stroke="#000" stroke-width="0.1">control</text>
<text x="643.40" y="265.70" font-family='"Liberation Sans", sans-serif' font-size="17.5" font-weight="bold" text-anchor="middle" fill="#000" stroke="#000" stroke-width="0.5">7</text>
<text x="590.00" y="285.00" font-family='"Liberation Sans", sans-serif' font-size="13.2" font-weight="bold" text-anchor="start" fill="#000" textLength="97" lengthAdjust="spacingAndGlyphs" stroke="#000" stroke-width="0.3">pAMPK/AMPK</text>
</svg>
</body></html>
